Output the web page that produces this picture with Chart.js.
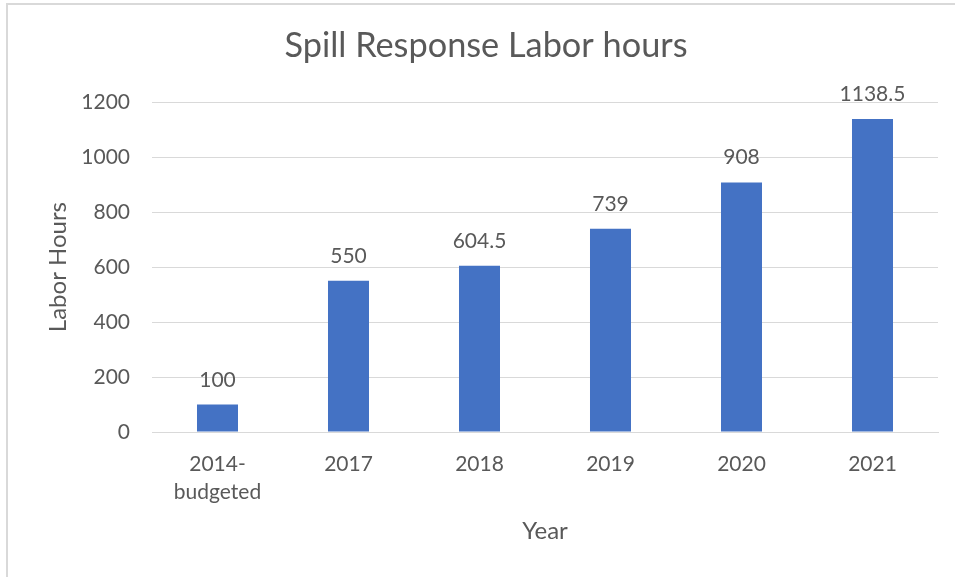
<!DOCTYPE html>
<html>
<head>
<meta charset="utf-8">
<script src="https://cdn.jsdelivr.net/npm/chart.js@4/dist/chart.umd.min.js"></script>
<style>
  html, body { margin: 0; padding: 0; background: #ffffff; overflow: hidden; }
  #frame { position: absolute; left: 6px; top: 3px; width: 960px; height: 590px;
           border-left: 2px solid #d9d9d9; border-top: 2px solid #d9d9d9; box-sizing: border-box; }
  #c { position: absolute; left: 0; top: 0; }
</style>
</head>
<body>
<div id="frame"></div>
<canvas id="c" width="955" height="577"></canvas>
<script>
const categories = [["2014-", "budgeted"], "2017", "2018", "2019", "2020", "2021"];
const laborHours = [100, 550, 604.5, 739, 908, 1138.5];
const valueLabels = ["100", "550", "604.5", "739", "908", "1138.5"];
const yTicks = [0, 200, 400, 600, 800, 1000, 1200];

const TEXT = '#595959';
const FONT = 'Lato, "Open Sans", sans-serif';

const barLabels = {
  id: 'barLabels',
  afterDatasetsDraw(chart) {
    const ctx = chart.ctx;
    const meta = chart.getDatasetMeta(0);
    ctx.save();
    ctx.fillStyle = TEXT;
    ctx.font = '21px ' + FONT;
    ctx.textAlign = 'center';
    ctx.textBaseline = 'alphabetic';
    meta.data.forEach((bar, i) => {
      ctx.fillText(valueLabels[i], bar.x, bar.y - 18);
    });
    ctx.restore();
  }
};

new Chart(document.getElementById('c'), {
  type: 'bar',
  data: {
    labels: categories,
    datasets: [{
      label: 'Labor Hours',
      data: laborHours,
      backgroundColor: '#4472c4',
      borderWidth: 0,
      categoryPercentage: 1,
      barPercentage: 0.313
    }]
  },
  options: {
    responsive: false,
    animation: false,
    layout: { padding: { left: 34, right: 17, top: 0, bottom: 0 } },
    plugins: {
      legend: { display: false },
      tooltip: { enabled: false },
      title: {
        display: true,
        text: 'Spill Response Labor hours',
        color: TEXT,
        font: { family: FONT, size: 34.3, weight: 'normal', lineHeight: 1.2 },
        padding: { top: 25, bottom: 36 }
      }
    },
    scales: {
      x: {
        grid: { display: false, drawTicks: false },
        border: { display: true, color: '#d9d9d9', width: 1 },
        ticks: { color: TEXT, font: { family: FONT, size: 21, lineHeight: 1.33 }, padding: 18, maxRotation: 0, autoSkip: false },
        title: { display: true, text: 'Year', color: TEXT, font: { family: FONT, size: 24, lineHeight: 1.25 }, padding: { top: 0, bottom: 31 } },
        afterFit(axis) { axis.height = 145; }
      },
      y: {
        min: 0, max: 1200,
        afterBuildTicks(axis) { axis.ticks = yTicks.map(v => ({ value: v })); },
        grid: { color: '#d9d9d9', lineWidth: 1, drawTicks: false },
        border: { display: false },
        ticks: { color: TEXT, font: { family: FONT, size: 21 }, padding: 22, callback: (v) => String(v) },
        title: { display: true, text: 'Labor Hours', color: TEXT, font: { family: FONT, size: 24, lineHeight: 1.25 }, padding: { top: 9, bottom: 0 } },
        afterFit(axis) { axis.width = 118; }
      }
    }
  },
  plugins: [barLabels]
});
</script>
</body>
</html>
